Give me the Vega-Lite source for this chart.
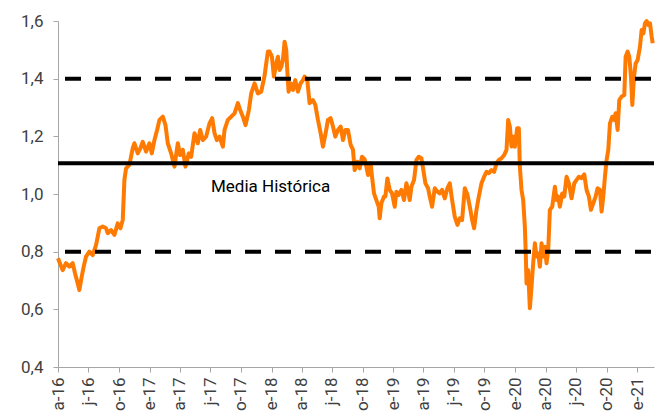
{
  "$schema": "https://vega.github.io/schema/vega-lite/v6.json",
  "width": 596,
  "height": 346,
  "autosize": "none",
  "padding": {"left": 58, "top": 21, "right": 8, "bottom": 49},
  "config": {
    "view": {"stroke": null},
    "font": "Roboto",
    "axis": {"labelFont": "Roboto", "labelFontSize": 16, "labelColor": "#404040", "domainColor": "#a6a6a6", "tickColor": "#a6a6a6", "grid": false, "title": null}
  },
  "datasets": {
    "series": [
      {"date":"2016-04-01","v":0.777},{"date":"2016-04-05","v":0.765},{"date":"2016-04-15","v":0.736},{"date":"2016-04-25","v":0.760},
      {"date":"2016-05-05","v":0.748},{"date":"2016-05-15","v":0.760},{"date":"2016-05-22","v":0.725},{"date":"2016-05-30","v":0.690},
      {"date":"2016-06-04","v":0.667},{"date":"2016-06-11","v":0.713},{"date":"2016-06-17","v":0.748},{"date":"2016-06-24","v":0.783},
      {"date":"2016-07-04","v":0.800},{"date":"2016-07-14","v":0.788},{"date":"2016-07-24","v":0.823},{"date":"2016-08-03","v":0.881},
      {"date":"2016-08-13","v":0.887},{"date":"2016-08-23","v":0.881},{"date":"2016-08-28","v":0.864},{"date":"2016-09-07","v":0.875},
      {"date":"2016-09-17","v":0.858},{"date":"2016-09-27","v":0.898},{"date":"2016-10-05","v":0.881},{"date":"2016-10-12","v":0.910},
      {"date":"2016-10-17","v":1.049},{"date":"2016-10-22","v":1.089},{"date":"2016-11-01","v":1.101},{"date":"2016-11-11","v":1.159},
      {"date":"2016-11-16","v":1.176},{"date":"2016-11-26","v":1.141},{"date":"2016-12-04","v":1.159},{"date":"2016-12-11","v":1.181},
      {"date":"2016-12-21","v":1.147},{"date":"2016-12-31","v":1.176},{"date":"2017-01-07","v":1.141},{"date":"2017-01-15","v":1.187},
      {"date":"2017-01-23","v":1.222},{"date":"2017-01-30","v":1.257},{"date":"2017-02-09","v":1.268},{"date":"2017-02-17","v":1.239},
      {"date":"2017-02-24","v":1.176},{"date":"2017-03-06","v":1.141},{"date":"2017-03-16","v":1.095},{"date":"2017-03-26","v":1.176},
      {"date":"2017-04-02","v":1.135},{"date":"2017-04-10","v":1.153},{"date":"2017-04-18","v":1.095},{"date":"2017-04-28","v":1.141},
      {"date":"2017-05-05","v":1.129},{"date":"2017-05-15","v":1.211},{"date":"2017-05-25","v":1.176},{"date":"2017-06-01","v":1.222},
      {"date":"2017-06-09","v":1.187},{"date":"2017-06-19","v":1.199},{"date":"2017-06-29","v":1.245},{"date":"2017-07-07","v":1.263},
      {"date":"2017-07-14","v":1.211},{"date":"2017-07-21","v":1.187},{"date":"2017-07-29","v":1.199},{"date":"2017-08-08","v":1.164},
      {"date":"2017-08-13","v":1.222},{"date":"2017-08-23","v":1.257},{"date":"2017-09-02","v":1.268},{"date":"2017-09-12","v":1.280},
      {"date":"2017-09-22","v":1.315},{"date":"2017-09-29","v":1.291},{"date":"2017-10-07","v":1.268},{"date":"2017-10-15","v":1.239},
      {"date":"2017-10-25","v":1.291},{"date":"2017-11-01","v":1.349},{"date":"2017-11-11","v":1.384},{"date":"2017-11-21","v":1.349},
      {"date":"2017-12-01","v":1.355},{"date":"2017-12-11","v":1.410},{"date":"2017-12-16","v":1.453},{"date":"2017-12-21","v":1.494},
      {"date":"2017-12-26","v":1.494},{"date":"2018-01-02","v":1.476},{"date":"2018-01-08","v":1.407},{"date":"2018-01-15","v":1.453},
      {"date":"2018-01-20","v":1.476},{"date":"2018-01-25","v":1.430},{"date":"2018-01-30","v":1.441},{"date":"2018-02-04","v":1.465},
      {"date":"2018-02-09","v":1.528},{"date":"2018-02-14","v":1.499},{"date":"2018-02-17","v":1.430},{"date":"2018-02-21","v":1.355},
      {"date":"2018-02-27","v":1.384},{"date":"2018-03-06","v":1.361},{"date":"2018-03-13","v":1.395},{"date":"2018-03-21","v":1.355},
      {"date":"2018-03-29","v":1.384},{"date":"2018-04-05","v":1.395},{"date":"2018-04-10","v":1.407},{"date":"2018-04-18","v":1.395},
      {"date":"2018-04-25","v":1.315},{"date":"2018-05-05","v":1.326},{"date":"2018-05-12","v":1.309},{"date":"2018-05-20","v":1.257},
      {"date":"2018-05-28","v":1.211},{"date":"2018-06-04","v":1.164},{"date":"2018-06-12","v":1.211},{"date":"2018-06-19","v":1.257},
      {"date":"2018-06-27","v":1.263},{"date":"2018-07-04","v":1.234},{"date":"2018-07-11","v":1.199},{"date":"2018-07-19","v":1.222},
      {"date":"2018-07-27","v":1.234},{"date":"2018-08-03","v":1.187},{"date":"2018-08-10","v":1.222},{"date":"2018-08-18","v":1.222},
      {"date":"2018-08-26","v":1.170},{"date":"2018-09-02","v":1.153},{"date":"2018-09-07","v":1.083},{"date":"2018-09-15","v":1.112},
      {"date":"2018-09-22","v":1.089},{"date":"2018-09-29","v":1.129},{"date":"2018-10-07","v":1.120},{"date":"2018-10-12","v":1.095},
      {"date":"2018-10-17","v":1.066},{"date":"2018-10-25","v":1.106},{"date":"2018-10-29","v":1.060},{"date":"2018-11-04","v":1.002},
      {"date":"2018-11-11","v":0.979},{"date":"2018-11-18","v":0.956},{"date":"2018-11-21","v":0.916},{"date":"2018-11-26","v":0.968},
      {"date":"2018-12-04","v":0.991},{"date":"2018-12-08","v":0.991},{"date":"2018-12-14","v":1.054},{"date":"2018-12-21","v":1.014},
      {"date":"2018-12-28","v":1.002},{"date":"2019-01-05","v":0.956},{"date":"2019-01-10","v":1.008},{"date":"2019-01-17","v":0.997},
      {"date":"2019-01-25","v":1.014},{"date":"2019-02-02","v":0.979},{"date":"2019-02-09","v":1.037},{"date":"2019-02-14","v":1.014},
      {"date":"2019-02-19","v":0.979},{"date":"2019-02-24","v":1.025},{"date":"2019-03-04","v":1.049},{"date":"2019-03-11","v":1.118},
      {"date":"2019-03-18","v":1.129},{"date":"2019-03-26","v":1.124},{"date":"2019-03-31","v":1.089},{"date":"2019-04-07","v":1.037},
      {"date":"2019-04-15","v":1.020},{"date":"2019-04-20","v":0.991},{"date":"2019-04-27","v":0.956},{"date":"2019-05-05","v":1.020},
      {"date":"2019-05-13","v":1.008},{"date":"2019-05-20","v":1.002},{"date":"2019-05-27","v":1.014},{"date":"2019-06-04","v":0.985},
      {"date":"2019-06-12","v":1.020},{"date":"2019-06-19","v":1.037},{"date":"2019-06-26","v":0.979},{"date":"2019-07-04","v":0.921},
      {"date":"2019-07-12","v":0.893},{"date":"2019-07-19","v":0.916},{"date":"2019-07-26","v":0.910},{"date":"2019-08-03","v":1.020},
      {"date":"2019-08-11","v":0.997},{"date":"2019-08-18","v":0.956},{"date":"2019-08-25","v":0.910},{"date":"2019-08-31","v":0.881},
      {"date":"2019-09-07","v":0.945},{"date":"2019-09-14","v":0.991},{"date":"2019-09-22","v":1.037},{"date":"2019-09-30","v":1.060},
      {"date":"2019-10-07","v":1.077},{"date":"2019-10-14","v":1.072},{"date":"2019-10-22","v":1.083},{"date":"2019-10-30","v":1.077},
      {"date":"2019-11-06","v":1.106},{"date":"2019-11-13","v":1.118},{"date":"2019-11-21","v":1.124},{"date":"2019-11-29","v":1.135},
      {"date":"2019-12-06","v":1.153},{"date":"2019-12-11","v":1.257},{"date":"2019-12-16","v":1.234},{"date":"2019-12-21","v":1.165},
      {"date":"2019-12-26","v":1.199},{"date":"2019-12-31","v":1.164},{"date":"2020-01-07","v":1.228},{"date":"2020-01-12","v":1.228},
      {"date":"2020-01-15","v":1.095},{"date":"2020-01-20","v":1.014},{"date":"2020-01-25","v":0.979},{"date":"2020-01-30","v":0.887},
      {"date":"2020-02-02","v":0.783},{"date":"2020-02-04","v":0.690},{"date":"2020-02-09","v":0.736},{"date":"2020-02-14","v":0.604},
      {"date":"2020-02-19","v":0.679},{"date":"2020-02-24","v":0.760},{"date":"2020-02-29","v":0.829},{"date":"2020-03-05","v":0.783},
      {"date":"2020-03-10","v":0.794},{"date":"2020-03-15","v":0.748},{"date":"2020-03-20","v":0.829},{"date":"2020-03-25","v":0.783},
      {"date":"2020-03-30","v":0.817},{"date":"2020-04-04","v":0.760},{"date":"2020-04-09","v":0.806},{"date":"2020-04-14","v":0.945},
      {"date":"2020-04-21","v":0.956},{"date":"2020-04-29","v":1.025},{"date":"2020-05-04","v":0.979},{"date":"2020-05-09","v":0.991},
      {"date":"2020-05-14","v":0.956},{"date":"2020-05-21","v":1.002},{"date":"2020-05-27","v":0.991},{"date":"2020-06-03","v":1.060},
      {"date":"2020-06-10","v":1.037},{"date":"2020-06-18","v":0.985},{"date":"2020-06-26","v":1.037},{"date":"2020-07-03","v":1.049},
      {"date":"2020-07-10","v":1.060},{"date":"2020-07-18","v":1.055},{"date":"2020-07-26","v":1.068},{"date":"2020-08-02","v":1.014},
      {"date":"2020-08-09","v":0.991},{"date":"2020-08-15","v":0.945},{"date":"2020-08-22","v":0.968},{"date":"2020-08-29","v":0.991},
      {"date":"2020-09-04","v":1.020},{"date":"2020-09-11","v":1.014},{"date":"2020-09-16","v":0.939},{"date":"2020-09-21","v":0.991},
      {"date":"2020-09-26","v":1.060},{"date":"2020-10-01","v":1.118},{"date":"2020-10-06","v":1.153},{"date":"2020-10-11","v":1.245},
      {"date":"2020-10-18","v":1.268},{"date":"2020-10-24","v":1.257},{"date":"2020-10-28","v":1.280},{"date":"2020-11-03","v":1.222},
      {"date":"2020-11-08","v":1.326},{"date":"2020-11-15","v":1.338},{"date":"2020-11-23","v":1.343},{"date":"2020-11-27","v":1.476},
      {"date":"2020-12-03","v":1.494},{"date":"2020-12-08","v":1.476},{"date":"2020-12-13","v":1.407},{"date":"2020-12-17","v":1.309},
      {"date":"2020-12-22","v":1.407},{"date":"2020-12-27","v":1.453},{"date":"2021-01-02","v":1.465},{"date":"2021-01-09","v":1.511},
      {"date":"2021-01-14","v":1.569},{"date":"2021-01-19","v":1.557},{"date":"2021-01-24","v":1.592},{"date":"2021-01-29","v":1.600},
      {"date":"2021-02-03","v":1.586},{"date":"2021-02-08","v":1.592},{"date":"2021-02-13","v":1.546},{"date":"2021-02-16","v":1.523}
    ],
    "bands": [{"level": 1.4}, {"level": 0.8}],
    "mean": [{"level": 1.107}],
    "labels": [{"date": "2017-12-29", "v": 1.024, "text": "Media Histórica"}]
  },
  "encoding": {
    "x": {
      "field": "date", "type": "temporal",
      "scale": {"type": "utc", "domain": [{"year": 2016, "month": 4, "date": 1, "utc": true}, {"year": 2021, "month": 2, "date": 20, "utc": true}]},
      "axis": {
        "values": [
          {"year":2016,"month":4,"date":1,"utc":true},{"year":2016,"month":7,"date":1,"utc":true},{"year":2016,"month":10,"date":1,"utc":true},
          {"year":2017,"month":1,"date":1,"utc":true},{"year":2017,"month":4,"date":1,"utc":true},{"year":2017,"month":7,"date":1,"utc":true},{"year":2017,"month":10,"date":1,"utc":true},
          {"year":2018,"month":1,"date":1,"utc":true},{"year":2018,"month":4,"date":1,"utc":true},{"year":2018,"month":7,"date":1,"utc":true},{"year":2018,"month":10,"date":1,"utc":true},
          {"year":2019,"month":1,"date":1,"utc":true},{"year":2019,"month":4,"date":1,"utc":true},{"year":2019,"month":7,"date":1,"utc":true},{"year":2019,"month":10,"date":1,"utc":true},
          {"year":2020,"month":1,"date":1,"utc":true},{"year":2020,"month":4,"date":1,"utc":true},{"year":2020,"month":7,"date":1,"utc":true},{"year":2020,"month":10,"date":1,"utc":true},
          {"year":2021,"month":1,"date":1,"utc":true}
        ],
        "labelExpr": "['e','f','m','a','m','j','j','a','s','o','n','d'][utcmonth(datum.value)] + '-' + utcFormat(datum.value, '%y')",
        "labelAngle": -90,
        "labelPadding": 5,
        "labelFontSize": 17,
        "tickSize": 5,
        "labelOverlap": false,
        "labelFlush": false,
        "labelBound": false
      }
    },
    "y": {
      "field": "v", "type": "quantitative",
      "scale": {"domain": [0.4, 1.6], "nice": false, "zero": false},
      "axis": {
        "values": [0.4, 0.6, 0.8, 1.0, 1.2, 1.4, 1.6],
        "labelExpr": "replace(format(datum.value, '.1f'), '.', ',')",
        "labelFontSize": 17,
        "tickSize": 5,
        "labelPadding": 10
      }
    }
  },
  "layer": [
    {
      "data": {"name": "series"},
      "mark": {"type": "line", "color": "#ff7a00", "strokeWidth": 4, "strokeJoin": "round"}
    },
    {
      "data": {"name": "bands"},
      "mark": {"type": "rule", "color": "#000000", "strokeWidth": 4, "strokeDash": [16, 14], "strokeDashOffset": 27},
      "encoding": {"x": null, "y": {"field": "level", "type": "quantitative"}}
    },
    {
      "data": {"name": "mean"},
      "mark": {"type": "rule", "color": "#000000", "strokeWidth": 4},
      "encoding": {"x": null, "y": {"field": "level", "type": "quantitative"}}
    },
    {
      "data": {"name": "labels"},
      "mark": {"type": "text", "font": "Roboto", "fontSize": 17, "color": "#000000", "align": "center", "baseline": "middle"},
      "encoding": {"text": {"field": "text"}}
    }
  ]
}
